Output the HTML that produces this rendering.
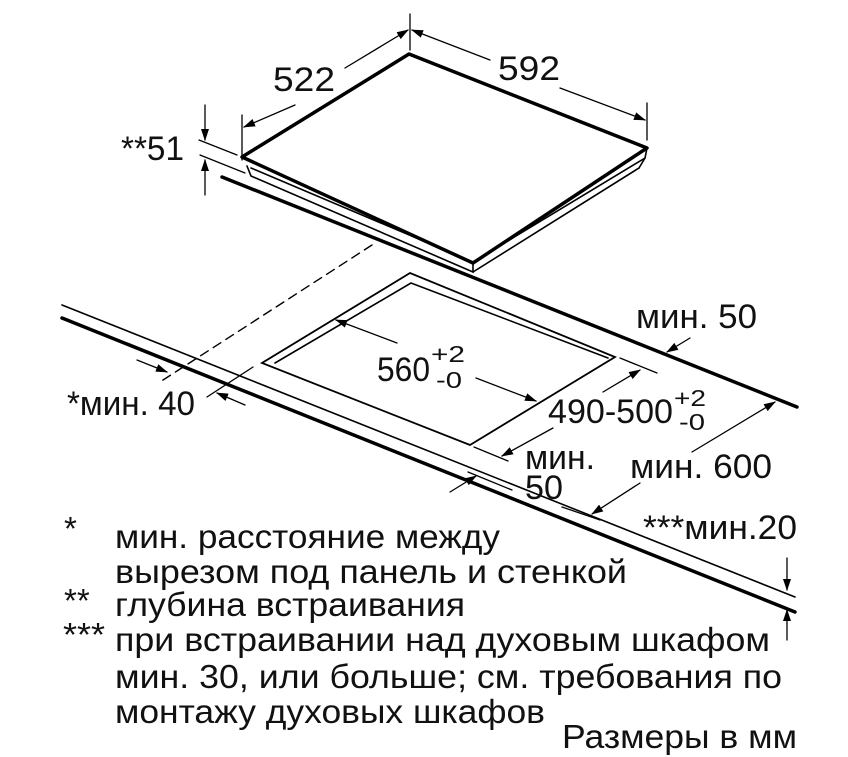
<!DOCTYPE html>
<html><head><meta charset="utf-8"><style>
html,body{margin:0;padding:0;background:#fff}
svg{display:block}
text{font-family:"Liberation Sans","DejaVu Sans",sans-serif;fill:#111}
</style></head><body>
<svg width="848" height="757" viewBox="0 0 848 757" xmlns="http://www.w3.org/2000/svg">
<defs>
<marker id="a" markerWidth="12" markerHeight="8" refX="11" refY="4" orient="auto" markerUnits="userSpaceOnUse">
<path d="M0,0 L12,4 L0,8 Z" fill="#000"/></marker>
</defs>
<g stroke="#000" fill="none" stroke-linecap="round">
<polygon points="242,157 409,54 647,148 473,263" stroke-width="3.5" stroke-linejoin="round"/>
<polyline points="247,166 251,176 473,272 473,263" stroke-width="1.6"/>
<polyline points="251,168 473,262 645,158 647,148" stroke-width="1.6"/>
<line x1="473" y1="272" x2="639" y2="168" stroke-width="1.6"/>
<line x1="639" y1="168" x2="645" y2="158" stroke-width="1.6"/>
<line x1="242" y1="115" x2="242" y2="160" stroke-width="1.3"/>
<line x1="410" y1="14" x2="410" y2="50" stroke-width="1.3"/>
<line x1="647" y1="103" x2="647" y2="140" stroke-width="1.3"/>
<line x1="295" y1="105" x2="244" y2="127" stroke-width="1.3" marker-end="url(#a)"/>
<line x1="345" y1="68" x2="408" y2="30" stroke-width="1.3" marker-end="url(#a)"/>
<line x1="490" y1="60" x2="412" y2="30" stroke-width="1.3" marker-end="url(#a)"/>
<line x1="560" y1="88" x2="645" y2="120" stroke-width="1.3" marker-end="url(#a)"/>
<line x1="199" y1="140" x2="237" y2="155" stroke-width="1.3"/>
<line x1="200" y1="155" x2="245" y2="173" stroke-width="1.3"/>
<line x1="205" y1="105" x2="205" y2="140" stroke-width="1.3" marker-end="url(#a)"/>
<line x1="205" y1="195" x2="205" y2="160" stroke-width="1.3" marker-end="url(#a)"/>
<line x1="222" y1="177" x2="797" y2="407" stroke-width="3.5"/>
<line x1="62" y1="305" x2="795" y2="597" stroke-width="1.6"/>
<line x1="62" y1="318" x2="795" y2="612" stroke-width="3.5"/>
<line x1="372" y1="245" x2="160" y2="382" stroke-width="1.4" stroke-dasharray="9,6"/>
<line x1="253" y1="367" x2="207" y2="397" stroke-width="1.3"/>
<line x1="137" y1="360" x2="167" y2="372" stroke-width="1.3" marker-end="url(#a)"/>
<line x1="245" y1="405" x2="217" y2="393" stroke-width="1.3" marker-end="url(#a)"/>
<polygon points="410,273 262,363 470,445 615,357" stroke-width="1.8" stroke-linejoin="miter"/>
<polyline points="275,363 411,283 608,358" stroke-width="1.6"/>
<line x1="397" y1="343" x2="336" y2="320" stroke-width="1.3" marker-end="url(#a)"/>
<line x1="476" y1="378" x2="536" y2="401" stroke-width="1.3" marker-end="url(#a)"/>
<line x1="620" y1="358" x2="657" y2="373" stroke-width="1.3"/>
<line x1="474" y1="447" x2="508" y2="461" stroke-width="1.3"/>
<line x1="603" y1="392" x2="640" y2="370" stroke-width="1.3" marker-end="url(#a)"/>
<line x1="553" y1="428" x2="502" y2="456" stroke-width="1.3" marker-end="url(#a)"/>
<line x1="690" y1="338" x2="667" y2="352" stroke-width="1.3" marker-end="url(#a)"/>
<line x1="450" y1="492" x2="476" y2="476" stroke-width="1.3" marker-end="url(#a)"/>
<line x1="468" y1="472" x2="512" y2="490" stroke-width="1.3"/>
<line x1="692" y1="452" x2="775" y2="402" stroke-width="1.3" marker-end="url(#a)"/>
<line x1="640" y1="483" x2="592" y2="514" stroke-width="1.3" marker-end="url(#a)"/>
<line x1="562" y1="507" x2="600" y2="520" stroke-width="1.3"/>
<line x1="787" y1="558" x2="787" y2="590" stroke-width="1.3" marker-end="url(#a)"/>
<line x1="787" y1="640" x2="787" y2="610" stroke-width="1.3" marker-end="url(#a)"/>
</g>
<g font-size="34">
<text x="273" y="91" textLength="62" lengthAdjust="spacingAndGlyphs">522</text>
<text x="498" y="80" textLength="62" lengthAdjust="spacingAndGlyphs">592</text>
<text x="121" y="160" textLength="63" lengthAdjust="spacingAndGlyphs">**51</text>
<text x="636" y="328" textLength="121" lengthAdjust="spacingAndGlyphs">мин. 50</text>
<text x="377" y="381" textLength="53" lengthAdjust="spacingAndGlyphs">560</text>
<text x="431" y="362" font-size="23" textLength="34" lengthAdjust="spacingAndGlyphs">+2</text>
<text x="436" y="388" font-size="23" textLength="26" lengthAdjust="spacingAndGlyphs">-0</text>
<text x="548" y="423" textLength="125" lengthAdjust="spacingAndGlyphs">490-500</text>
<text x="674" y="406" font-size="23" textLength="32" lengthAdjust="spacingAndGlyphs">+2</text>
<text x="679" y="430" font-size="23" textLength="26" lengthAdjust="spacingAndGlyphs">-0</text>
<text x="67" y="415" textLength="128" lengthAdjust="spacingAndGlyphs">*мин. 40</text>
<text x="525" y="469" textLength="70" lengthAdjust="spacingAndGlyphs">мин.</text>
<text x="525" y="499" textLength="38" lengthAdjust="spacingAndGlyphs">50</text>
<text x="630" y="478" textLength="142" lengthAdjust="spacingAndGlyphs">мин. 600</text>
<text x="643" y="539" textLength="154" lengthAdjust="spacingAndGlyphs">***мин.20</text>
</g>
<g font-size="33">
<text x="64" y="540">*</text>
<text x="64" y="612">**</text>
<text x="63" y="646" textLength="42" lengthAdjust="spacingAndGlyphs">***</text>
<text x="115" y="548" textLength="385" lengthAdjust="spacingAndGlyphs">мин. расстояние между</text>
<text x="115" y="583" textLength="512" lengthAdjust="spacingAndGlyphs">вырезом под панель и стенкой</text>
<text x="115" y="616" textLength="350" lengthAdjust="spacingAndGlyphs">глубина встраивания</text>
<text x="115" y="651" textLength="655" lengthAdjust="spacingAndGlyphs">при встраивании над духовым шкафом</text>
<text x="115" y="688" textLength="667" lengthAdjust="spacingAndGlyphs">мин. 30, или больше; см. требования по</text>
<text x="115" y="723" textLength="430" lengthAdjust="spacingAndGlyphs">монтажу духовых шкафов</text>
<text x="562" y="748" textLength="235" lengthAdjust="spacingAndGlyphs">Размеры в мм</text>
</g>
</svg>
</body></html>
